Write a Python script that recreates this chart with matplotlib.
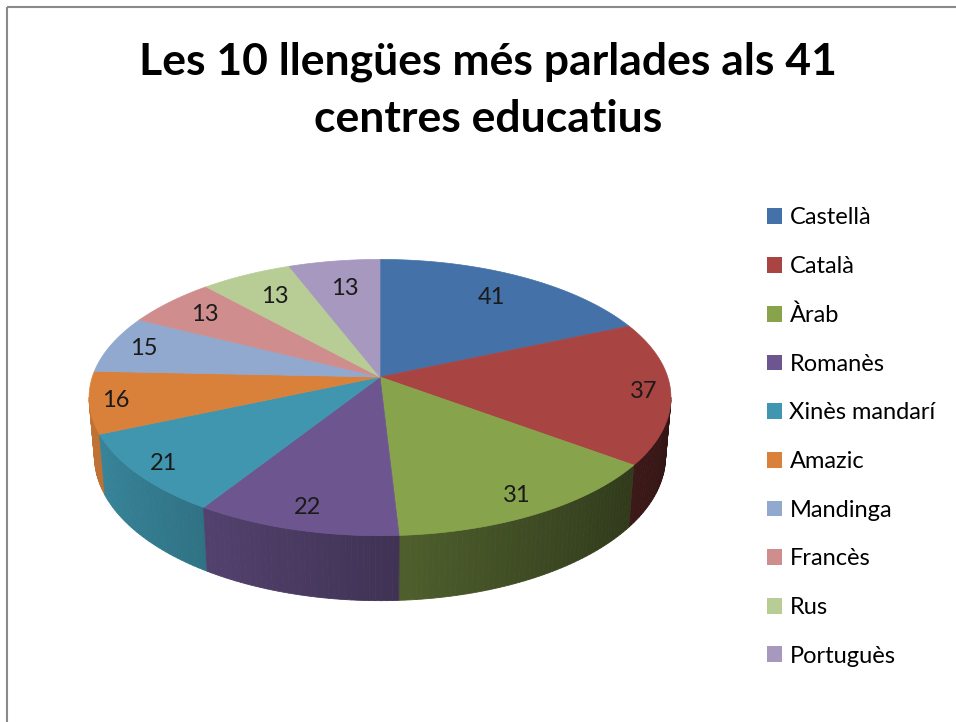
import numpy as np
import matplotlib.pyplot as plt
from matplotlib.patches import Polygon, Rectangle
from matplotlib import colors as mcolors

# Data
languages = ["Castellà", "Català", "Àrab", "Romanès", "Xinès mandarí",
             "Amazic", "Mandinga", "Francès", "Rus", "Portuguès"]
speakers = [41, 37, 31, 22, 21, 16, 15, 13, 13, 13]
colors = ["#4471a7", "#a84543", "#87a34c", "#6d5690", "#3f96ae",
          "#d9813b", "#91a8cf", "#cf8e8d", "#b8cd95", "#a698be"]
title_lines = ["Les 10 llengües més parlades als 41", "centres educatius"]

# 3D view (everything in pixel units of the figure)
cx, cy = 380, 377
tilt = np.radians(28)
dist = 5.93
focal = 1706
depth = 0.234


def project(theta, r=1.0, h=0.0):
    x3 = r * np.sin(theta)
    z3 = r * np.cos(theta)
    up = z3 * np.sin(tilt) + h * np.cos(tilt)
    d = dist + z3 * np.cos(tilt) - h * np.sin(tilt)
    return cx + focal * x3 / d, cy - focal * up / d


fig = plt.figure(figsize=(9.56, 7.22), dpi=100)
ax = fig.add_axes([0, 0, 1, 1])
ax.set_xlim(0, 956)
ax.set_ylim(722, 0)
ax.axis("off")

vals = np.array(speakers, dtype=float)
edges = np.concatenate([[0], np.cumsum(vals)]) / vals.sum() * 2 * np.pi

# side faces (only the visible front part), drawn back to front
t_sil = np.arccos(-np.cos(tilt) / dist)
quads = []
for i in range(len(vals)):
    a0 = max(edges[i], t_sil)
    a1 = min(edges[i + 1], 2 * np.pi - t_sil)
    if a1 <= a0:
        continue
    n = max(2, int(np.degrees(a1 - a0)))
    ts = np.linspace(a0, a1, n + 1)
    base = np.array(mcolors.to_rgb(colors[i]))
    for t0, t1 in zip(ts[:-1], ts[1:]):
        tm = (t0 + t1) / 2
        shade = 0.6 - 0.3 * np.sin(tm)
        pts = [project(t0), project(t1), project(t1, h=-depth), project(t0, h=-depth)]
        quads.append((np.cos(tm), pts, np.clip(base * shade, 0, 1)))
quads.sort(key=lambda q: -q[0])
for _, pts, col in quads:
    ax.add_patch(Polygon(pts, closed=True, facecolor=col, edgecolor=col, lw=0.6))

# top faces
for i in range(len(vals)):
    ts = np.linspace(edges[i], edges[i + 1], 120)
    xs, ys = project(ts)
    pts = [(cx, cy)] + list(zip(xs, ys))
    ax.add_patch(Polygon(pts, closed=True, facecolor=colors[i],
                         edgecolor=colors[i], lw=0.5))

# data labels
for i, v in enumerate(speakers):
    tm = (edges[i] + edges[i + 1]) / 2
    r = 0.80 - 0.07 * np.cos(tm) + 0.10 * np.sin(tm) ** 2
    lx, ly = project(tm, r)
    ax.text(lx, ly, str(v), ha="center", va="center", fontsize=17,
            family="Lato", color="#1a1a1a")

# title
for line, base_y in zip(title_lines, [75, 132]):
    ax.text(488, base_y, line, ha="center", va="baseline", fontsize=32,
            fontweight="bold", family="Lato", color="black")

# chart border
ax.add_patch(Rectangle((7, 7), 1100, 1100, fill=False, edgecolor="#8a8a8a", lw=1.5))

# legend
handles = [Rectangle((0, 0), 1, 1, facecolor=c, edgecolor="none") for c in colors]
fig.legend(handles, languages, loc="center left",
           bbox_to_anchor=(767 / 956, 1 - 437 / 722), frameon=False,
           prop={"family": "Lato", "size": 17}, handlelength=0.65,
           handleheight=0.65, handletextpad=0.3, labelspacing=1.17,
           borderpad=0, borderaxespad=0)

plt.savefig("out.png", dpi=100)
plt.close()
